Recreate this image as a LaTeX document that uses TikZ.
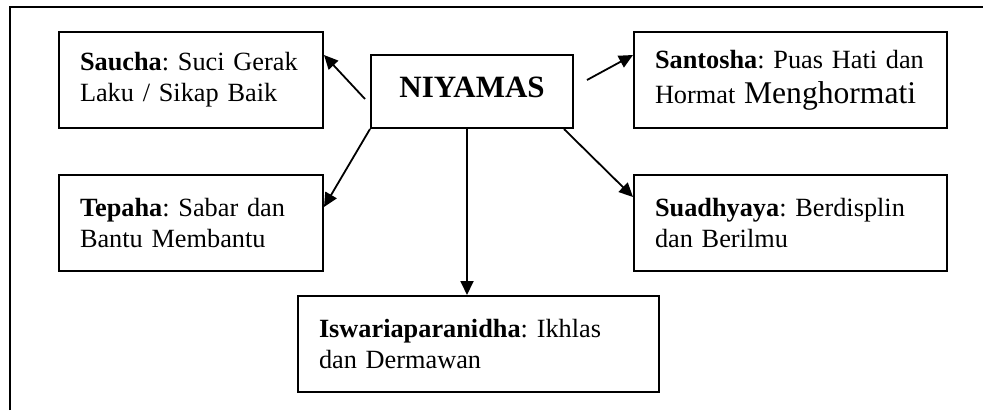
\documentclass[tikz,border=0pt]{standalone}
\usepackage{fontspec}
\setmainfont{Liberation Serif}
\usetikzlibrary{arrows.meta}

\begin{document}
\begin{tikzpicture}[x=1pt, y=-1pt, >={Triangle[length=14pt,width=13pt]},
        kotak/.style={draw, line width=2pt, anchor=north west, align=left,
            inner xsep=21pt, minimum height=96pt,
            font=\fontsize{26.3}{31}\selectfont\frenchspacing},
        panah/.style={->, line width=1.8pt}]
    \useasboundingbox (0,0) rectangle (990,410);
    \newcommand{\kotak}[4]{
        \node[kotak, text width=#3] (#1) at #2 {#4};
    }
    \draw[line width=2pt] (10,410) -- (10,7) -- (983,7);
    \node[draw, line width=2pt, anchor=north west, minimum width=202pt, minimum height=73pt,
        text depth=9pt, font=\bfseries\fontsize{31}{36}\selectfont] (niyamas) at (370,54) {NIYAMAS};
    \kotak{saucha}{(58,31)}{222pt}{\textbf{Saucha}: Suci Gerak\\Laku / Sikap Baik};
    \kotak{santosha}{(633,31)}{271pt}{\textbf{Santosha}: Puas Hati dan\\[4pt]Hormat {\fontsize{31.6}{35}\selectfont Menghormati}};
    \kotak{tepaha}{(58,174)}{222pt}{\textbf{Tepaha}: Sabar dan\\Bantu Membantu};
    \kotak{suadhyaya}{(633,174)}{271pt}{\textbf{Suadhyaya}: Berdisplin\\dan Berilmu};
    \kotak{iswaria}{(297,295)}{319pt}{\textbf{Iswariaparanidha}: Ikhlas\\dan Dermawan};
    \draw[panah] ([xshift=-5pt,yshift=-7.5pt]niyamas.west) -- ([yshift=-24pt]saucha.north east);
    \draw[panah] ([xshift=13pt,yshift=11.5pt]niyamas.east) -- ([yshift=-24pt]santosha.north west);
    \draw[panah] (niyamas.south west) -- ([yshift=-33pt]tepaha.north east);
    \draw[panah] ([xshift=-10pt]niyamas.south east) -- ([yshift=-23pt]suadhyaya.north west);
    \draw[panah] ([xshift=-5pt]niyamas.south) -- ([xshift=-5pt]niyamas.south |- iswaria.north);
\end{tikzpicture}
\end{document}
